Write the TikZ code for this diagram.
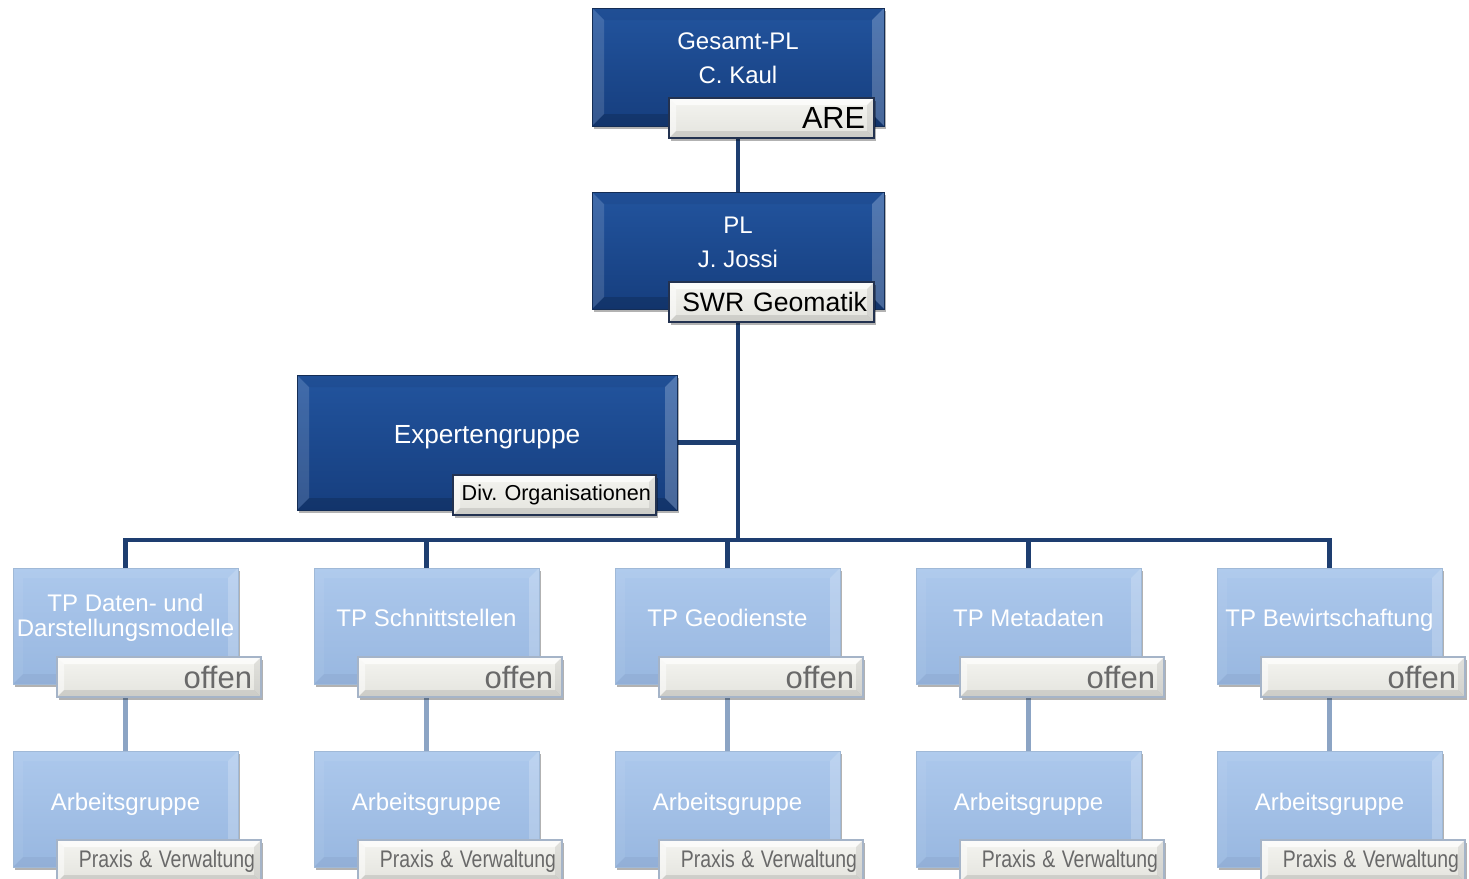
\documentclass[tikz,border=0pt]{standalone}
\usepackage{fontspec}
\setmainfont{Liberation Sans}
\usetikzlibrary{shadows,backgrounds,calc}
\frenchspacing
\definecolor{dtop}{RGB}{34,84,158}
\definecolor{dbot}{RGB}{22,62,126}
\definecolor{dedge}{RGB}{20,45,85}
\definecolor{ltop}{RGB}{172,200,236}
\definecolor{lbot}{RGB}{152,183,224}
\definecolor{ledge}{RGB}{160,185,215}
\definecolor{labtop}{RGB}{244,244,240}
\definecolor{labbot}{RGB}{228,228,222}
\definecolor{labedgeD}{RGB}{35,50,80}
\definecolor{labedgeL}{RGB}{165,180,200}
\definecolor{upcol}{RGB}{30,62,112}
\definecolor{lowcol}{RGB}{140,164,196}
\definecolor{graytext}{RGB}{105,105,105}
\newcommand\bevelpic[5]{%
 \fill[#2] (path picture bounding box.north west) -- (path picture bounding box.north east) -- ([shift={(-#1,-#1)}]path picture bounding box.north east) -- ([shift={(#1,-#1)}]path picture bounding box.north west) -- cycle;
 \fill[#3] (path picture bounding box.north west) -- (path picture bounding box.south west) -- ([shift={(#1,#1)}]path picture bounding box.south west) -- ([shift={(#1,-#1)}]path picture bounding box.north west) -- cycle;
 \fill[#4] (path picture bounding box.north east) -- (path picture bounding box.south east) -- ([shift={(-#1,#1)}]path picture bounding box.south east) -- ([shift={(-#1,-#1)}]path picture bounding box.north east) -- cycle;
 \fill[#5] (path picture bounding box.south west) -- (path picture bounding box.south east) -- ([shift={(-#1,#1)}]path picture bounding box.south east) -- ([shift={(#1,#1)}]path picture bounding box.south west) -- cycle;
}
\newcommand\rtext[1]{\hbox to\linewidth{\hss #1}}
\tikzset{
 shadowed/.style={drop shadow={shadow xshift=1pt, shadow yshift=-1.5pt, opacity=0.3, fill=black}},
 darkbox/.style 2 args={rectangle, inner sep=0pt, minimum width=#1, minimum height=#2,
   draw=dedge, line width=0.5pt, top color=dtop, bottom color=dbot, shadowed,
   path picture={\bevelpic{6pt}{black,opacity=0.05}{white,opacity=0.14}{white,opacity=0.22}{black,opacity=0.15}}},
 lightbox/.style 2 args={rectangle, inner sep=0pt, minimum width=#1, minimum height=#2,
   draw=ledge, line width=0.5pt, top color=ltop, bottom color=lbot, shadowed,
   path picture={\bevelpic{5pt}{white,opacity=0.06}{white,opacity=0.06}{white,opacity=0.2}{black,opacity=0.04}}},
 labbase/.style={rectangle, minimum height=20pt, inner ysep=0pt, align=right,
   top color=labtop, bottom color=labbot, line width=0.9pt, shadowed,
   path picture={\bevelpic{3.5pt}{white,opacity=0.7}{white,opacity=0.5}{black,opacity=0.08}{black,opacity=0.1}}},
 labD/.style={labbase, draw=labedgeD, text=black},
 labL/.style={labbase, draw=labedgeL, text=graytext},
 wtext/.style={text=white, align=center, inner sep=0pt, font=\fontsize{12}{17}\selectfont},
 uplink/.style={draw=upcol, line width=2.4pt},
 lowlink/.style={draw=lowcol, line width=2.4pt},
}
\begin{document}
\begin{tikzpicture}[x=0.5pt,y=-0.5pt]
\clip (0,0) rectangle (1469,879);
% top
\node[darkbox={146pt}{59pt}] (G) at (738,67) {};
\node[wtext] (Gt) at (738,58) {Gesamt-PL\\C. Kaul};
\node[labD, minimum width=102.5pt, inner xsep=4.5pt, text width=93.5pt, font=\fontsize{15.3}{18}\selectfont] (Gl) at (771.5,118) {\rtext{ARE}};
% PL
\node[darkbox={146pt}{58.5pt}] (PL) at (738,250.5) {};
\node[wtext] (PLt) at (738,242) {PL\\J. Jossi};
\node[labD, minimum width=102.5pt, inner xsep=3.5pt, text width=95.5pt, font=\fontsize{13.3}{16}\selectfont] (PLl) at (771.5,302) {\rtext{SWR Geomatik}};
% Expert
\node[darkbox={190pt}{67.5pt}] (Exp) at (487,442.5) {};
\node[wtext, anchor=base, font=\fontsize{13.1}{16}\selectfont] (Expt) at (487,443) {Expertengruppe};
\node[labD, minimum width=101.5pt, inner xsep=2.5pt, text width=96.5pt, font=\fontsize{10.8}{13}\selectfont] (Expl) at (554.5,495) {\rtext{Div. Organisationen}};
% TP and AG
\foreach \i/\t in {1/{TP Schnittstellen},2/{TP Geodienste},3/{TP Metadaten},4/{TP Bewirtschaftung}}{
  \pgfmathsetmacro\cx{125.5+301*\i}
  \node[lightbox={112.5pt}{58pt}] (TP\i) at (\cx,626) {};
  \node[wtext, anchor=base] (TPt\i) at (\cx,626) {\t};
}
\node[lightbox={112.5pt}{58pt}] (TP0) at (125.5,626) {};
\node[wtext] (TPt0) at (125.5,618) {TP Daten- und\\[-4.5pt]Darstellungsmodelle};
\foreach \i in {0,...,4}{
  \pgfmathsetmacro\cx{125.5+301*\i}
  \pgfmathsetmacro\lx{159+301*\i}
  \node[labL, minimum width=102pt, inner xsep=4.5pt, text width=93pt, font=\fontsize{15.5}{18}\selectfont] (TPl\i) at (\lx,677) {\rtext{offen}};
  \node[lightbox={112.5pt}{58pt}] (AG\i) at (\cx,809) {};
  \node[wtext, anchor=base] (AGt\i) at (\cx,810) {Arbeitsgruppe};
  \node[labL, minimum width=102pt, minimum height=21pt, inner xsep=3pt, text width=96pt, font=\fontsize{12}{14}\selectfont] (AGl\i) at (\lx,861) {\rtext{\scalebox{0.81}[1]{Praxis \& Verwaltung}}};
}
\begin{scope}[on background layer]
\coordinate (bus) at (738,540);
\draw[uplink] (G) -- (PL);
\draw[uplink] (PL) -- (bus);
\draw[uplink] (Exp) -- (Exp -| PL);
\draw[uplink] (TP0) -- (TP0 |- bus) -- (TP4 |- bus) -- (TP4);
\foreach \i in {1,2,3} \draw[uplink] (TP\i |- bus) -- (TP\i);
\foreach \i in {0,...,4} \draw[lowlink] (TP\i) -- (AG\i);
\end{scope}
\end{tikzpicture}
\end{document}
